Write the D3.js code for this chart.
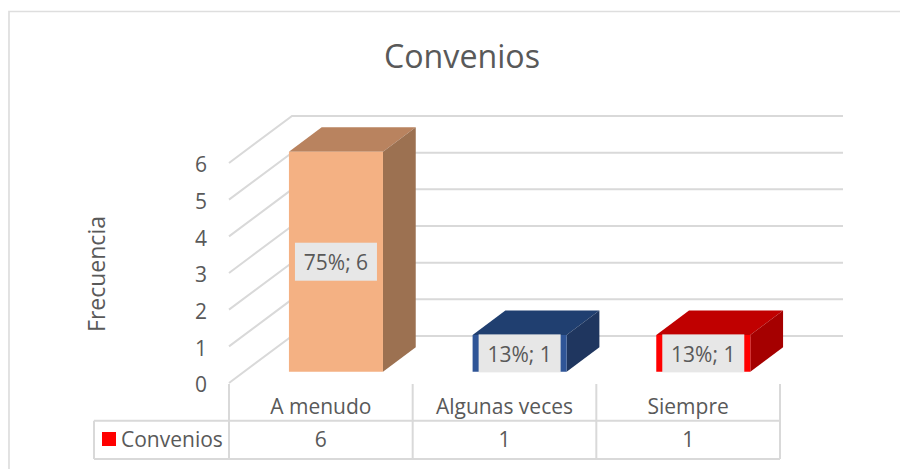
<!DOCTYPE html>
<html><head><meta charset="utf-8"><script src="https://cdn.jsdelivr.net/npm/d3@7"></script>
<style>html,body{margin:0;padding:0;background:#fff}svg{display:block}text{font-family:"Open Sans","Noto Sans",sans-serif;fill:#595959}</style>
</head><body><svg id="c" width="900" height="469"></svg>
<script>
const title = "Convenios";
const yTitle = "Frecuencia";
const seriesName = "Convenios";
const categories = ["A menudo","Algunas veces","Siempre"];
const values = [6,1,1];
const labels = ["75%; 6","13%; 1","13%; 1"];
const yTicks = [0,1,2,3,4,5,6];
const frontColors = ["#F4B183","#2F5597","#FF0000"];
const topColors = ["#B9835F","#203F70","#C00000"];
const sideColors = ["#9C7151","#1F365F","#A50000"];

const svg = d3.select("#c");
const grid = "#D9D9D9";
const x = d3.scaleBand().domain(categories).range([229,780]);
const y = d3.scaleLinear().domain([0,6]).range([383,163]);
const depthX = 63, depthY = 47;
const P = (px,v,d)=>[px+d*depthX, y(v)-d*depthY];
const line = d3.line();

// outer frame
svg.append("path").attr("d","M9,469V11.5H900").attr("fill","none").attr("stroke","#DEDEDE").attr("stroke-width",1.7);

// title
svg.append("text").attr("x",462).attr("y",68).attr("text-anchor","middle").attr("font-size",32.2).text(title);
// y title
svg.append("text").attr("transform","translate(105,274) rotate(-90)").attr("text-anchor","middle").attr("font-size",23).text(yTitle);

// walls
yTicks.forEach(t=>{
  const a=P(229,t,0), b=P(229,t,1), c=P(843-depthX,t,1);
  svg.append("path").attr("d",line([a,b,c])).attr("fill","none").attr("stroke",grid).attr("stroke-width",2);
  svg.append("text").attr("x",201).attr("y",y(t)+9.2).attr("text-anchor","middle").attr("font-size",21).text(t);
});

// bars
const bandW = x.bandwidth(), barW = bandW*0.512, dFront=0.24, dBack=0.76;
categories.forEach((c,i)=>{
  const l = x(c)+(bandW-barW)/2, r = l+barW, v = values[i];
  const pa=(pts,col)=>svg.append("path").attr("d",line(pts)+"Z").attr("fill",col);
  pa([P(l,v,dFront),P(r,v,dFront),P(r,v,dBack),P(l,v,dBack)],topColors[i]);
  pa([P(r,0,dFront),P(r,v,dFront),P(r,v,dBack),P(r,0,dBack)],sideColors[i]);
  pa([P(l,0,dFront),P(r,0,dFront),P(r,v,dFront),P(l,v,dFront)],frontColors[i]);
  const cx = (P(l,0,dFront)[0]+P(r,0,dFront)[0])/2;
  const cy = (y(0)+y(v))/2 - dFront*depthY;
  const w=82, h=38;
  svg.append("rect").attr("x",cx-w/2).attr("y",cy-h/2).attr("width",w).attr("height",h).attr("fill","#E7E7E7");
  svg.append("text").attr("x",cx).attr("y",cy+8.7).attr("text-anchor","middle").attr("font-size",21).text(labels[i]);
});

// data table
const tTop=420.7,tBot=459,tLeft=94,aTop=384;
const L=(a,b)=>svg.append("path").attr("d",line([a,b])).attr("stroke",grid).attr("stroke-width",2).attr("fill","none");
L([tLeft,tTop],[780,tTop]); L([tLeft,tBot],[780,tBot]); L([tLeft,tTop],[tLeft,tBot]);
[229,...categories.map(c=>x(c)+bandW)].forEach(px=>L([px,aTop],[px,tBot]));
categories.forEach((c,i)=>{
  const cx=x(c)+bandW/2;
  svg.append("text").attr("x",cx).attr("y",414).attr("text-anchor","middle").attr("font-size",21).text(c);
  svg.append("text").attr("x",cx).attr("y",447).attr("text-anchor","middle").attr("font-size",21).text(values[i]);
});
svg.append("rect").attr("x",102).attr("y",432).attr("width",14).attr("height",14).attr("fill","#FF0000");
svg.append("text").attr("x",121).attr("y",447).attr("font-size",21).text(seriesName);
</script></body></html>
